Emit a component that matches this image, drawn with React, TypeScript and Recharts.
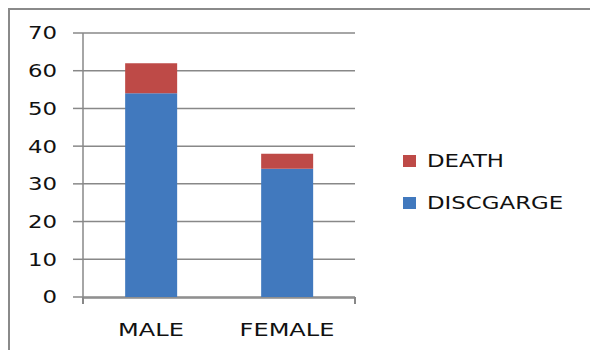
import { BarChart, Bar, XAxis, YAxis, CartesianGrid, Legend } from "recharts";

const categories = ["MALE", "FEMALE"];
const dischargeValues = [54, 34];
const deathValues = [8, 4];
const yTicks = [0, 10, 20, 30, 40, 50, 60, 70];
const boundaryTicks = [0, 1, 2];

const BLUE = "#4179BE";
const RED = "#BE4A47";
const GRID = "#888888";
const FONT = "'DejaVu Sans', Verdana, sans-serif";

const data = categories.map((name, i) => ({
  name,
  discharge: dischargeValues[i],
  death: deathValues[i],
}));

// the original text looks horizontally stretched, so stretch the glyphs a bit
const YTick = ({ x, y, payload }: any) => (
  <text
    transform={`translate(${x},${y}) scale(1.27,1)`}
    textAnchor="end"
    dy="0.36em"
    fontSize={18}
    fontFamily={FONT}
    fill="#111"
  >
    {payload.value}
  </text>
);

const XTick = ({ x, y, payload }: any) => (
  <text
    transform={`translate(${x},${y}) scale(1.3,1)`}
    textAnchor="middle"
    fontSize={18.5}
    fontFamily={FONT}
    fill="#111"
  >
    {payload.value}
  </text>
);

// boundary ticks carry no label, only the tick line
const NoLabel = () => <g />;

const LegendBox = ({ payload }: any) => {
  const items = [...(payload || [])];
  return (
    <div>
      {items.map((item: any) => (
        <div
          key={item.value}
          style={{ display: "flex", alignItems: "center", height: 24, marginBottom: 18 }}
        >
          <span style={{ width: 13, height: 12, background: item.color, marginRight: 11 }} />
          <span
            style={{
              display: "inline-block",
              fontSize: 18,
              fontFamily: FONT,
              color: "#111",
              lineHeight: "24px",
              transform: "scaleX(1.27)",
              transformOrigin: "left center",
              whiteSpace: "nowrap",
            }}
          >
            {item.value}
          </span>
        </div>
      ))}
    </div>
  );
};

export default function App() {
  return (
    <div style={{ position: "absolute", left: 0, top: 0, width: 590, height: 350, background: "#fff", overflow: "hidden" }}>
      <div
        style={{
          position: "absolute",
          left: 8,
          top: 8,
          width: 640,
          height: 400,
          borderTop: "2px solid #8a8a8a",
          borderLeft: "2px solid #8a8a8a",
        }}
      />
      <div style={{ position: "absolute", left: 0, top: 0 }}>
        <BarChart
          width={590}
          height={350}
          data={data}
          margin={{ top: 33, right: 235, bottom: 51, left: 0 }}
          barCategoryGap="31%"
        >
          <CartesianGrid vertical={false} stroke={GRID} strokeWidth={1.5} />
          <XAxis
            xAxisId="cat"
            dataKey="name"
            height={1}
            axisLine={{ stroke: GRID, strokeWidth: 1.5 }}
            tickLine={false}
            tickSize={0}
            tickMargin={38}
            tick={<XTick />}
            interval={0}
          />
          <XAxis
            xAxisId="bounds"
            type="number"
            domain={[0, 2]}
            ticks={boundaryTicks}
            interval={0}
            allowDataOverflow
            height={1}
            axisLine={false}
            tickLine={{ stroke: GRID, strokeWidth: 2 }}
            tickSize={7}
            tick={<NoLabel />}
          />
          <YAxis
            width={83}
            domain={[0, 70]}
            ticks={yTicks}
            interval={0}
            axisLine={{ stroke: GRID, strokeWidth: 1.5 }}
            tickLine={{ stroke: GRID, strokeWidth: 1.5 }}
            tickSize={10}
            tickMargin={16}
            tick={<YTick />}
          />
          <Legend
            layout="horizontal"
            verticalAlign="middle"
            align="center"
            content={<LegendBox />}
            wrapperStyle={{ left: 403, top: 149, width: "auto", height: "auto" }}
          />
          <Bar xAxisId="cat" dataKey="discharge" name="DISCGARGE" stackId="a" fill={BLUE} isAnimationActive={false} />
          <Bar xAxisId="cat" dataKey="death" name="DEATH" stackId="a" fill={RED} isAnimationActive={false} />
        </BarChart>
      </div>
    </div>
  );
}
